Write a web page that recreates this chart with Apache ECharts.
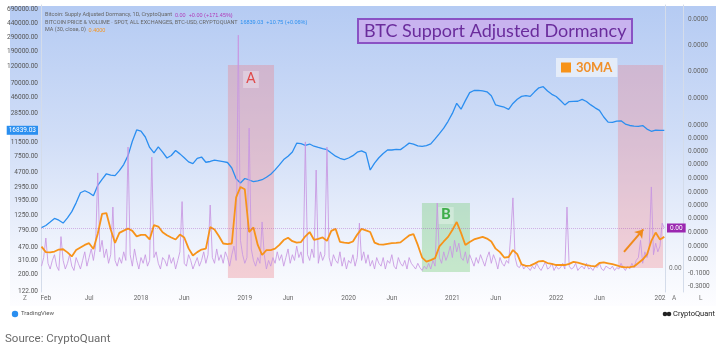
<!DOCTYPE html>
<html><head><meta charset="utf-8">
<script src="https://cdn.jsdelivr.net/npm/echarts@6/dist/echarts.min.js"></script>
<style>html,body{margin:0;padding:0;background:#fff;}#c{width:720px;height:362px;}</style>
</head><body><div id="c"></div>
<script>
// x positions are "months since 1 Jan 2017"
const priceStart = 0.5, priceStep = 0.5;
const priceVals = [
  // 2017
  850, 910, 1010, 1130, 1070, 980, 1150, 1390, 1820, 2480, 2640, 2480, 2260, 3100, 3730, 4440, 4260, 4200, 4880, 5890, 7750, 12050, 17030, 16390,
  // 2018
  13710, 9970, 8420, 10130, 8630, 7200, 7770, 9070, 8170, 7270, 6390, 6060, 7110, 7420, 6320, 6470, 6730, 6610, 6440, 6270, 5300, 3810, 3340, 3840,
  // 2019
  3670, 3480, 3580, 3700, 3990, 4380, 5000, 5830, 6860, 7610, 8670, 11330, 11200, 10630, 11050, 10330, 9940, 9600, 9280, 8390, 7610, 7140, 6860, 7200,
  // 2020
  7740, 8600, 8980, 8420, 4980, 6160, 7250, 8270, 9200, 9200, 9400, 9310, 10270, 11360, 11050, 10460, 10310, 10530, 11090, 12920, 15210, 17960, 22190, 28270,
  // 2021
  38490, 32160, 41820, 53500, 57060, 57190, 56280, 54740, 48460, 36590, 35430, 34160, 32040, 38310, 43590, 47580, 48910, 47580, 54740, 61980, 64050, 56280, 50740, 47460,
  // 2022 - Jan 2023
  42020, 36670, 40590, 40870, 41050, 43380, 40680, 36670, 33530, 31000, 25320, 21640, 21400, 22310, 22520, 20360, 19510, 19080, 18980, 19440, 17470, 16340, 16890, 16790, 16839.03
];
const maVals = [
  15.8, 13.9, 13.8, 14.1, 14.8, 14.9, 13.8, 12.4, 14.6, 15.5, 16.4, 17.0, 15.0, 20.3, 27.2, 27.5, 21.8, 17.1, 20.6, 21.4, 22.1, 21.3, 19.4, 19.9,
  19.9, 18.3, 23.3, 22.8, 20.8, 19.8, 19.0, 18.3, 20.0, 19.0, 15.2, 12.7, 13.9, 14.8, 15.1, 22.6, 21.8, 19.5, 16.9, 16.7, 16.9, 33.0, 36.6, 35.8,
  20.9, 22.5, 16.4, 12.9, 14.6, 14.6, 15.1, 16.4, 18.1, 18.9, 17.7, 17.2, 17.4, 19.4, 20.9, 18.2, 18.5, 19.0, 17.8, 21.3, 22.0, 17.5, 17.2, 17.0,
  17.6, 20.0, 22.0, 21.5, 20.9, 17.2, 16.6, 16.5, 16.8, 17.0, 17.1, 17.3, 18.5, 19.7, 20.2, 16.4, 12.0, 10.6, 11.1, 11.8, 15.9, 17.6, 19.2, 21.6,
  24.4, 20.6, 16.4, 17.4, 18.3, 18.8, 19.2, 18.6, 17.6, 15.1, 13.9, 12.0, 12.2, 14.6, 13.2, 9.6, 9.1, 9.2, 9.9, 10.7, 10.8, 10.1, 9.8, 9.4,
  9.4, 9.4, 9.8, 10.5, 10.2, 9.8, 9.4, 9.1, 8.9, 10.1, 10.3, 10.0, 9.7, 9.3, 8.8, 8.6, 8.7, 8.9, 10.1, 11.3, 13.1, 17.8, 20.7, 18.3, 19.2
];
const dormStart = 0.5, dormStep = 0.25;
const dormVals = [
  9, 12, 18.8, 10, 8, 11, 13, 9, 7.5, 19.3, 11, 8,
  10, 13, 9, 7.5, 12, 10, 8, 11, 14, 9, 12, 15,
  11, 16, 41.5, 14, 18, 12, 15, 10, 13, 29.6, 11, 9,
  12, 10, 14, 11, 50.5, 13, 9, 15, 11, 8, 12, 10,
  13, 9, 11, 47, 12, 14, 10, 8, 12, 11, 9, 13,
  10, 12, 8, 11, 14, 31.5, 10, 9, 13, 11, 8, 10,
  12, 9, 11, 14, 10, 13, 30.3, 12, 10, 15, 11, 13,
  10, 14, 12, 9, 13, 16, 11, 89.5, 18, 13, 10, 12,
  57.1, 15, 11, 9, 12, 10, 24.4, 13, 8, 11, 9, 12,
  10, 14, 11, 13, 9, 12, 15, 10, 13, 11, 16, 12,
  14, 10, 52.3, 13, 11, 15, 12, 42.5, 10, 14, 11, 13,
  50.5, 12, 9, 13, 11, 10, 14, 9, 12, 8, 11, 10,
  13, 9, 12, 24, 11, 14, 10, 13, 9, 11, 8, 12,
  10, 9, 12, 8, 11, 10, 13, 9, 8, 12, 10, 9,
  11, 8, 12, 10, 9, 8, 10, 8.5, 7.5, 9, 8, 10,
  8, 11, 9, 31, 12, 10, 14, 11, 13, 16, 12, 18,
  14, 17, 12, 11, 14, 10, 13, 11, 9, 12, 10, 13,
  11, 9, 12, 14, 10, 13, 11, 8, 12, 10, 9, 11,
  10, 20, 32.8, 12, 9, 8.5, 10, 8, 9, 8.5, 7.5, 9,
  8, 10, 8.5, 7.5, 9, 10.5, 8, 8.5, 10, 7.5, 9, 8,
  8.5, 10, 8, 29.6, 9, 8, 8.5, 10, 7.5, 8.5, 9, 8,
  10, 8, 8.5, 7.5, 9, 8.5, 10, 8, 7.5, 9, 8.5, 8,
  9, 7.5, 8.5, 8, 10, 8.5, 7.5, 9, 8, 10, 8.5, 11,
  12, 18, 10, 14, 12, 15, 36.6, 13, 17, 14, 16, 24, 22.3
];
const xLabelMonths = [1, 6, 12, 17, 24, 29, 36, 41, 48, 53, 60, 65, 72];
const xLabelTexts = ['Feb', 'Jul', '2018', 'Jun', '2019', 'Jun', '2020', 'Jun', '2021', 'Jun', '2022', 'Jun', '202'];
const priceTicks = [122, 200, 310, 470, 790, 1250, 1950, 2950, 4700, 7500, 11500, 16839.03, 28500, 46000, 70000, 120000, 190000, 290000, 440000, 690000];
const lastPrice = 16839.03;
const dormTicks = [95.1, 86.1, 77.0, 67.6, 58.2, 53.7, 49.1, 44.6, 39.7, 34.8, 30.3, 25.8, 20.9, 16.0, 11.5, 6.6, 2.1];
const dormTickTexts = ['0.0000','0.0000','0.0000','0.0000','0.0000','0.0000','0.0000','0.0000','0.0000','0.0000','0.0000','0.0000','0.0000','0.0000','0.0000','-0.1000','-0.3000'];
const maTicks = [8.4];
const maTickTexts = ['0.00'];
// annotation ranges [monthFrom, monthTo, valueFrom, valueTo]
const zoneA = [22.05, 27.38, 4.9, 79.1];
const zoneB = [44.48, 50.03, 7.0, 31.0];
const zoneC = [67.14, 72.35, 8.4, 79.1];
const arrowFrom = [67.84, 14.0], arrowTo = [70.07, 21.8];

const toPairs = (arr, s, st) => arr.map((v, i) => [s + i * st, v]);
const pick = (ticks, texts) => v => { const i = ticks.findIndex(t => Math.abs(t - v) < 1e-6); return i < 0 ? '' : texts[i]; };

const chart = echarts.init(document.getElementById('c'), null, {renderer: 'canvas'});
const F = 'Roboto, "DejaVu Sans", sans-serif';
chart.setOption({
  animation: false,
  backgroundColor: '#ffffff',
  textStyle: {fontFamily: F},
  title: {
    text: 'BTC Support Adjusted Dormancy', left: 358, top: 19,
    backgroundColor: '#c8b3ef', borderColor: '#8a52c4', borderWidth: 2, padding: [3, 6],
    textStyle: {color: '#6a2c9c', fontSize: 18, fontWeight: 'normal', fontFamily: 'Lato'}
  },
  legend: {
    data: ['30MA'], left: 556, top: 58, icon: 'rect', itemWidth: 10, itemHeight: 10, itemGap: 4,
    backgroundColor: 'rgba(232,238,250,0.9)', padding: [3, 5],
    textStyle: {color: '#f0902a', fontSize: 13, fontWeight: 'bold', fontFamily: 'Lato'}
  },
  grid: {left: 41, right: 55, top: 5, bottom: 70, containLabel: false},
  xAxis: {
    type: 'value', min: 0.44, max: 72.58,
    axisLine: {show: false}, axisTick: {show: false}, splitLine: {show: false},
    axisLabel: {customValues: xLabelMonths, formatter: pick(xLabelMonths, xLabelTexts), fontSize: 6.5, color: '#666', margin: 3}
  },
  yAxis: [
    {
      type: 'log', logBase: 10, min: 118.3, max: 784700, position: 'left',
      axisLine: {show: true, lineStyle: {color: '#d4dcea'}}, axisTick: {show: false}, splitLine: {show: false},
      axisLabel: {
        customValues: priceTicks, margin: 3, fontSize: 6.5, color: '#555',
        formatter: v => Math.abs(v - lastPrice) < 0.01 ? '{tag|' + v.toFixed(2) + '}' : v.toFixed(2),
        rich: {tag: {backgroundColor: '#2a8ff0', color: '#fff', padding: [1, 2], fontSize: 6.5}}
      }
    },
    {
      type: 'value', min: 0, max: 100, position: 'right', offset: 18,
      axisLine: {show: true, lineStyle: {color: '#d4dcea'}}, axisTick: {show: false}, splitLine: {show: false},
      axisLabel: {customValues: dormTicks, formatter: pick(dormTicks, dormTickTexts), fontSize: 6.5, color: '#666', margin: 5}
    },
    {
      type: 'value', min: 0, max: 100, position: 'right', offset: 0,
      axisLine: {show: true, lineStyle: {color: '#d4dcea'}}, axisTick: {show: false}, splitLine: {show: false},
      axisLabel: {customValues: maTicks, formatter: pick(maTicks, maTickTexts), fontSize: 6.5, color: '#777', margin: 4}
    }
  ],
  series: [
    {
      name: 'Price', type: 'line', yAxisIndex: 0, showSymbol: false, z: 2,
      data: toPairs(priceVals, priceStart, priceStep),
      lineStyle: {color: '#2b8ef0', width: 1.3}
    },
    {
      name: 'Dormancy', type: 'line', yAxisIndex: 1, showSymbol: false, z: 3,
      data: toPairs(dormVals, dormStart, dormStep),
      lineStyle: {color: 'rgba(200,150,226,0.85)', width: 1},
      markLine: {
        silent: true, symbol: 'none',
        lineStyle: {type: 'dotted', color: 'rgba(160,60,190,0.35)', width: 1},
        label: {position: 'end', distance: 2, formatter: '0.00', backgroundColor: '#9b27b0', color: '#fff', padding: [1, 3], fontSize: 6.5},
        data: [{yAxis: dormVals[dormVals.length - 1]}]
      },
      markArea: {
        silent: true,
        data: [
          [{xAxis: zoneA[0], yAxis: zoneA[3], itemStyle: {color: 'rgba(238,120,130,0.33)'},
            label: {show: true, position: 'insideTop', distance: 6, formatter: 'A', color: '#e04a4a', fontSize: 15, backgroundColor: 'rgba(255,255,255,0.3)', padding: [1, 3]}},
           {xAxis: zoneA[1], yAxis: zoneA[2]}],
          [{xAxis: zoneB[0], yAxis: zoneB[3], itemStyle: {color: 'rgba(110,200,110,0.35)'},
            label: {show: true, position: 'insideTop', distance: 4, formatter: 'B', color: '#3fae4a', fontSize: 15, fontWeight: 'bold', backgroundColor: 'rgba(255,255,255,0.3)', padding: [1, 3]}},
           {xAxis: zoneB[1], yAxis: zoneB[2]}],
          [{xAxis: zoneC[0], yAxis: zoneC[3], itemStyle: {color: 'rgba(238,120,130,0.3)'}, label: {show: false}},
           {xAxis: zoneC[1], yAxis: zoneC[2]}]
        ]
      }
    },
    {
      name: '30MA', type: 'line', yAxisIndex: 2, showSymbol: false, z: 4,
      data: toPairs(maVals, priceStart, priceStep),
      itemStyle: {color: '#f7931a'},
      lineStyle: {color: '#f7931a', width: 1.8},
      markLine: {
        silent: true, symbol: ['none', 'arrow'], symbolSize: 8,
        lineStyle: {type: 'solid', color: '#f08a1c', width: 2},
        label: {show: false},
        data: [[{coord: arrowFrom}, {coord: arrowTo}]]
      }
    }
  ],
  graphic: [
    {type: 'rect', z: -10, silent: true, shape: {x: 10, y: 6, width: 706, height: 300},
     style: {fill: {type: 'linear', x: 0, y: 0, x2: 0, y2: 1, colorStops: [
       {offset: 0, color: '#b5cbf3'}, {offset: 0.45, color: '#d1def7'}, {offset: 0.85, color: '#f3f6fd'}, {offset: 1, color: '#fdfdff'}]}}},
    {type: 'text', left: 45, top: 12, silent: true, style: {
      text: 'Bitcoin: Supply Adjusted Dormancy, 1D, CryptoQuant  {p|0.00  +0.00 (+171.45%)}',
      fontSize: 5.5, fontFamily: F, fill: '#666', rich: {p: {fill: '#b03ab8', fontSize: 5.5}}}},
    {type: 'text', left: 45, top: 19.5, silent: true, style: {
      text: 'BITCOIN PRICE & VOLUME \u00b7 SPOT, ALL EXCHANGES, BTC-USD, CRYPTOQUANT  {b|16839.03  +10.75 (+0.06%)}',
      fontSize: 5.5, fontFamily: F, fill: '#666', rich: {b: {fill: '#2a8ff0', fontSize: 5.5}}}},
    {type: 'text', left: 45, top: 27, silent: true, style: {
      text: 'MA (30, close, 0)  {o|0.4000}', fontSize: 5.5, fontFamily: F, fill: '#666', rich: {o: {fill: '#f7931a', fontSize: 5.5}}}},
    {type: 'text', left: 23, top: 295, silent: true, style: {text: 'Z', fontSize: 6.5, fontFamily: F, fill: '#777'}},
    {type: 'text', left: 672, top: 295, silent: true, style: {text: 'A', fontSize: 6.5, fontFamily: F, fill: '#777'}},
    {type: 'text', left: 699, top: 295, silent: true, style: {text: 'L', fontSize: 6.5, fontFamily: F, fill: '#777'}},
    {type: 'circle', silent: true, shape: {cx: 15, cy: 314, r: 3.2}, style: {fill: '#2a8ff0'}},
    {type: 'text', left: 21, top: 310.5, silent: true, style: {text: 'TradingView', fontSize: 6, fontFamily: F, fill: '#555'}},
    {type: 'circle', silent: true, shape: {cx: 665, cy: 314, r: 2.3}, style: {fill: '#222'}},
    {type: 'circle', silent: true, shape: {cx: 669, cy: 314, r: 2.3}, style: {fill: '#222'}},
    {type: 'text', left: 673, top: 310, silent: true, style: {text: 'CryptoQuant', fontSize: 7.5, fontFamily: F, fill: '#222'}},
    {type: 'text', left: 5, top: 333, silent: true, style: {text: 'Source: CryptoQuant', fontSize: 11.5, fontFamily: F, fill: '#6b6b6b'}}
  ]
});
</script>
</body></html>
